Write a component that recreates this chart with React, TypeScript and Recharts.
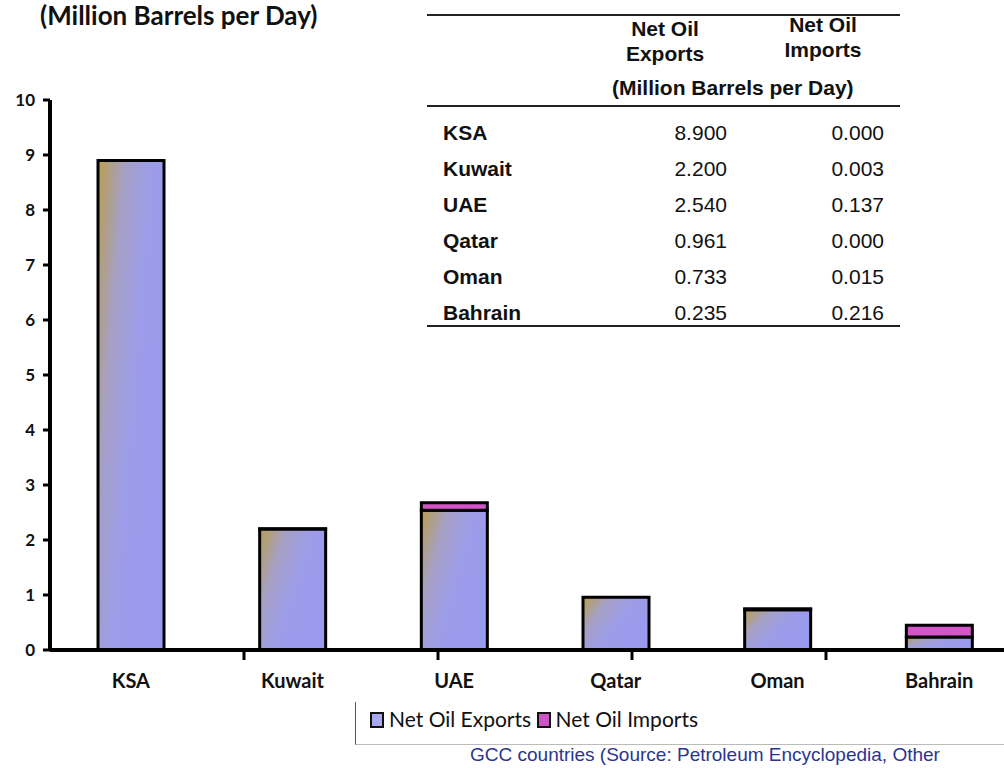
import { BarChart, Bar, XAxis, YAxis } from "recharts";

const countries = ["KSA", "Kuwait", "UAE", "Qatar", "Oman", "Bahrain"];
const netExports = [8.9, 2.2, 2.54, 0.961, 0.733, 0.235];
const netImports = [0.0, 0.003, 0.137, 0.0, 0.015, 0.216];
const yTicks = [0, 1, 2, 3, 4, 5, 6, 7, 8, 9, 10];
const separatorTicks = [1, 2, 3, 4, 5];

const data = countries.map((name, i) => ({
  name,
  exports: netExports[i],
  imports: netImports[i],
}));

const calibri = "Lato, 'Open Sans', sans-serif";
const arial = "'Liberation Sans', Arial, sans-serif";

function DataTable() {
  return (
    <div style={{ position: "absolute", left: 0, top: 0, width: 1004, height: 340, fontFamily: arial, color: "#111" }}>
      <div style={{ position: "absolute", left: 427, top: 14, width: 473, borderTop: "2px solid #222" }} />
      <div style={{ position: "absolute", left: 600, top: 16, width: 130, textAlign: "center", fontWeight: 700, fontSize: 21, lineHeight: "25px" }}>
        Net Oil<br />Exports
      </div>
      <div style={{ position: "absolute", left: 758, top: 12, width: 130, textAlign: "center", fontWeight: 700, fontSize: 21, lineHeight: "25px" }}>
        Net Oil<br />Imports
      </div>
      <div style={{ position: "absolute", left: 612, top: 76, fontWeight: 700, fontSize: 21, whiteSpace: "nowrap" }}>
        (Million Barrels per Day)
      </div>
      <div style={{ position: "absolute", left: 427, top: 105, width: 473, borderTop: "2px solid #222" }} />
      {countries.map((c, i) => (
        <div key={c} style={{ position: "absolute", left: 0, top: 120 + i * 36, width: 1004, fontSize: 21, lineHeight: "26px" }}>
          <span style={{ position: "absolute", left: 443, fontWeight: 700 }}>{c}</span>
          <span style={{ position: "absolute", left: 607, width: 120, textAlign: "right" }}>{netExports[i].toFixed(3)}</span>
          <span style={{ position: "absolute", left: 764, width: 120, textAlign: "right" }}>{netImports[i].toFixed(3)}</span>
        </div>
      ))}
      <div style={{ position: "absolute", left: 427, top: 325, width: 473, borderTop: "2px solid #222" }} />
    </div>
  );
}

function LegendBox() {
  const sw = (color: string) => (
    <span style={{ display: "inline-block", width: 10, height: 12, background: color, border: "2px solid #111", marginRight: 5, verticalAlign: "-1px" }} />
  );
  return (
    <div style={{ position: "absolute", left: 355, top: 702, width: 649, height: 42, borderLeft: "1px solid #555", borderBottom: "1px solid #bbb", fontFamily: calibri, fontSize: 21, color: "#111", whiteSpace: "nowrap" }}>
      <div style={{ position: "absolute", left: 14, top: 4 }}>
        {sw("#a8a8f0")}Net Oil Exports {sw("#cc55c8")}Net Oil Imports
      </div>
    </div>
  );
}

export default function App() {
  return (
    <div style={{ position: "absolute", left: 0, top: 0, width: 1004, height: 768, overflow: "hidden", background: "#fff" }}>
      <div style={{ position: "absolute", left: 40, top: 0, fontFamily: calibri, fontWeight: 700, fontSize: 26, lineHeight: "30px", color: "#111", whiteSpace: "nowrap" }}>
        (Million Barrels per Day)
      </div>
      <DataTable />
      <div style={{ position: "absolute", left: 0, top: 0 }}>
        <BarChart
          width={1020}
          height={768}
          data={data}
          margin={{ top: 100, right: 0, bottom: 116, left: 10 }}
          barSize={66}
        >
          <defs>
            <linearGradient id="expGrad" x1="0" y1="0" x2="1" y2="0.6">
              <stop offset="0%" stopColor="#b89e4e" />
              <stop offset="30%" stopColor="#a6a0c4" />
              <stop offset="60%" stopColor="#9c9ce8" />
              <stop offset="100%" stopColor="#9a9af0" />
            </linearGradient>
          </defs>
          <XAxis
            dataKey="name"
            height={1}
            stroke="#000"
            strokeWidth={4}
            axisLine={{ stroke: "#000", strokeWidth: 4 }}
            tickLine={false}
            tickMargin={18}
            tick={{ fontFamily: calibri, fontWeight: 700, fontSize: 20, fill: "#111", strokeWidth: 0 }}
          />
          <XAxis
            xAxisId="sep"
            type="number"
            domain={[0, 6]}
            ticks={separatorTicks}
            height={1}
            stroke="#000"
            strokeWidth={3}
            axisLine={false}
            tick={() => <g />}
            tickLine={{ stroke: "#000", strokeWidth: 3 }}
            tickSize={9}
          />
          <YAxis
            width={40}
            domain={[0, 10]}
            ticks={yTicks}
            interval={0}
            stroke="#000"
            strokeWidth={4}
            axisLine={{ stroke: "#000", strokeWidth: 4 }}
            tickLine={{ stroke: "#000", strokeWidth: 3 }}
            tickSize={7}
            tickMargin={8}
            tick={{ fontFamily: calibri, fontWeight: 700, fontSize: 17, fill: "#111", strokeWidth: 0 }}
          />
          <Bar dataKey="exports" stackId="a" fill="url(#expGrad)" stroke="#000" strokeWidth={3} isAnimationActive={false} />
          <Bar dataKey="imports" stackId="a" fill="#d455c8" stroke="#000" strokeWidth={3} isAnimationActive={false} />
        </BarChart>
      </div>
      <LegendBox />
      <div style={{ position: "absolute", left: 470, top: 744, fontFamily: arial, fontSize: 19, lineHeight: "22px", color: "#2a3590", whiteSpace: "nowrap" }}>
        GCC countries (Source: Petroleum Encyclopedia, Other
      </div>
    </div>
  );
}
